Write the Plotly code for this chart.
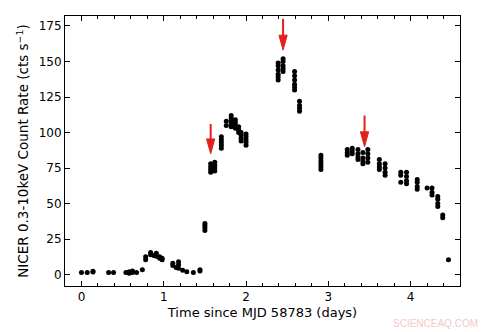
import plotly.graph_objects as go

# NICER light curve: time since MJD 58783 (days) and 0.3-10 keV count rate
time_days = [
    0.00, 0.07, 0.14, 0.14, 0.33, 0.39, 0.54, 0.58, 0.58, 0.62, 0.62, 0.67, 0.74,
    0.78, 0.78, 0.84, 0.84, 0.88, 0.91, 0.91, 0.95, 0.95, 0.98, 0.98,
    1.11, 1.11, 1.15, 1.18, 1.18, 1.18, 1.23, 1.28, 1.36, 1.44, 1.44,
    1.50, 1.50, 1.50, 1.50,
    1.57, 1.57, 1.57, 1.57, 1.62, 1.62, 1.62, 1.62,
    1.70, 1.70, 1.70, 1.70, 1.70,
    1.76, 1.76, 1.82, 1.82, 1.82, 1.82, 1.82,
    1.87, 1.87, 1.87, 1.87, 1.91, 1.91, 1.91,
    1.94, 1.94, 1.94, 1.94, 2.00, 2.00, 2.00, 2.00, 2.00,
    2.39, 2.39, 2.39, 2.39, 2.39, 2.39, 2.45, 2.45, 2.45, 2.45, 2.45,
    2.59, 2.59, 2.59, 2.59, 2.59, 2.59, 2.65, 2.65, 2.65, 2.65,
    2.91, 2.91, 2.91, 2.91, 2.91, 2.91,
    3.23, 3.23, 3.23, 3.29, 3.29, 3.29, 3.36, 3.36, 3.36, 3.36,
    3.42, 3.42, 3.42, 3.42, 3.48, 3.48, 3.48, 3.48,
    3.62, 3.62, 3.62, 3.62, 3.69, 3.69, 3.69, 3.69,
    3.88, 3.88, 3.88, 3.95, 3.95, 3.95, 3.95,
    4.08, 4.08, 4.08, 4.08, 4.20, 4.26, 4.26, 4.26,
    4.33, 4.33, 4.33, 4.33, 4.39, 4.39, 4.46,
]
count_rate = [
    1.5, 1.5, 1.8, 2.3, 1.5, 1.5, 1.5, 2.0, 1.0, 2.5, 1.5, 1.5, 3.5,
    10.5, 12.5, 14.0, 15.5, 13.5, 13.0, 15.0, 11.5, 12.5, 10.5, 11.5,
    6.5, 8.0, 5.0, 4.5, 7.0, 9.0, 3.0, 2.0, 1.5, 2.5, 3.5,
    31.0, 33.0, 34.5, 36.0,
    72.0, 74.0, 76.0, 78.0, 73.0, 75.0, 77.0, 79.0,
    89.0, 91.0, 93.0, 95.0, 97.0,
    105.0, 108.0, 104.0, 106.0, 108.0, 110.0, 112.0,
    103.0, 105.0, 107.0, 109.0, 100.0, 102.0, 104.0,
    94.0, 96.0, 98.0, 100.0, 91.0, 93.0, 95.0, 97.0, 99.0,
    137.0, 139.0, 141.0, 144.0, 147.0, 149.0, 143.0, 145.0, 147.0, 150.0, 152.0,
    130.0, 132.0, 134.0, 137.0, 140.0, 143.0, 115.0, 117.0, 119.0, 122.0,
    74.0, 76.0, 78.0, 80.0, 82.0, 84.0,
    84.0, 86.0, 88.0, 85.0, 87.0, 89.0, 81.0, 83.0, 85.0, 88.0,
    78.0, 80.0, 82.0, 86.0, 79.0, 82.0, 85.0, 88.0,
    74.0, 76.0, 78.0, 81.0, 70.0, 72.0, 75.0, 78.0,
    65.0, 70.0, 72.0, 64.0, 66.0, 69.0, 72.0,
    60.0, 62.0, 65.0, 67.0, 61.0, 56.0, 58.0, 61.0,
    48.0, 50.0, 53.0, 55.0, 40.0, 42.0, 10.5,
]

# Red arrows marking epochs: x position, tip y, tail y
arrow_x = [1.57, 2.45, 3.44]
arrow_tip = [85.0, 158.0, 90.0]
arrow_tail = [106.0, 180.0, 112.0]

x_ticks = [0, 1, 2, 3, 4]
y_ticks = [0, 25, 50, 75, 100, 125, 150, 175]

font = "DejaVu Sans, Arial, sans-serif"
arrow_red = "#e3201b"
head_half_width = 0.05   # days
head_length = 10.5       # count-rate units

fig = go.Figure()
fig.add_trace(go.Scatter(
    x=time_days, y=count_rate, mode="markers",
    marker=dict(color="black", size=5, line=dict(width=0)),
    showlegend=False, hoverinfo="x+y",
))

# Arrows: a shaft line plus a filled narrow head
for ax_x, tip, tail in zip(arrow_x, arrow_tip, arrow_tail):
    base = tip + head_length
    fig.add_trace(go.Scatter(
        x=[ax_x, ax_x], y=[tail, base], mode="lines",
        line=dict(color=arrow_red, width=2), showlegend=False, hoverinfo="skip",
    ))
    fig.add_trace(go.Scatter(
        x=[ax_x - head_half_width, ax_x + head_half_width, ax_x, ax_x - head_half_width],
        y=[base, base, tip, base], mode="lines", fill="toself",
        fillcolor=arrow_red, line=dict(color=arrow_red, width=1),
        showlegend=False, hoverinfo="skip",
    ))

fig.add_annotation(
    x=1, y=0, xref="paper", yref="paper", xanchor="right", yanchor="top",
    xshift=20, yshift=-30, text="SCIENCEAQ.COM", showarrow=False,
    font=dict(family="Arial, sans-serif", size=10, color="#f4c8c8"),
)

axis_common = dict(
    showline=True, linecolor="black", linewidth=1, mirror="allticks",
    ticks="inside", tickcolor="black", ticklen=5, tickwidth=1,
    showgrid=False, zeroline=False,
    tickfont=dict(family=font, size=12, color="black"),
)

fig.update_xaxes(
    range=[-0.2, 4.6], tickvals=x_ticks,
    minor=dict(dtick=0.2, tick0=0, ticks="inside", ticklen=3, tickcolor="black"),
    title=dict(text="Time since MJD 58783 (days)", standoff=4,
               font=dict(family=font, size=13, color="black")),
    **axis_common,
)
fig.update_yaxes(
    range=[-8, 182], tickvals=y_ticks,
    title=dict(text="NICER 0.3-10keV Count Rate (cts s<sup>−1</sup>)", standoff=6,
               font=dict(family=font, size=13.5, color="black")),
    **axis_common,
)

fig.update_layout(
    width=493, height=332,
    margin=dict(l=65, r=33, t=16, b=46),
    plot_bgcolor="white", paper_bgcolor="white",
)

fig.write_html("out.html")
